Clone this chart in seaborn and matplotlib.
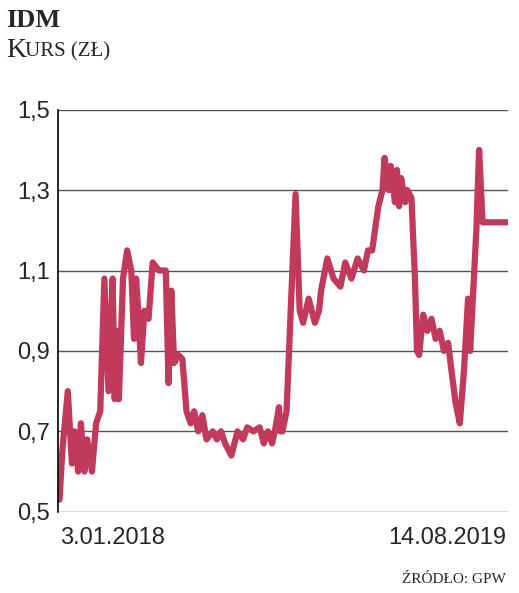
import matplotlib
matplotlib.use("Agg")
import matplotlib.pyplot as plt
import seaborn as sns
import pandas as pd

# price of IDM (day offset from 3.01.2018, price in zł)
days = [0, 4, 12, 18, 22, 27, 31, 36, 40, 47, 53, 59, 65, 71, 77, 80, 83, 86, 92, 98,
        104, 108, 111, 114, 118, 123, 129, 135, 144, 150, 154, 158, 162, 166, 172, 178, 184, 190, 195, 201,
        207, 213, 222, 228, 234, 240, 249, 258, 266, 272, 281, 290, 296, 302, 308, 312, 318, 320, 323, 329,
        335, 342, 348, 353, 361, 370, 376, 379, 388, 397, 407, 414, 423, 432, 441, 447, 453, 462, 468, 471,
        477, 480, 486, 489, 492, 495, 501, 504, 510, 515, 518, 521, 527, 533, 539, 545, 551, 557, 563, 568,
        574, 580, 586, 592, 595, 598, 604, 608, 613, 621, 667]
price = [0.53, 0.65, 0.80, 0.62, 0.70, 0.60, 0.72, 0.60, 0.68, 0.60, 0.72, 0.75, 1.08, 0.80, 1.08, 0.78, 0.95, 0.78, 1.08, 1.15,
         1.10, 0.93, 1.08, 1.00, 0.87, 1.00, 0.98, 1.12, 1.10, 1.10, 1.10, 0.82, 1.05, 0.87, 0.89, 0.88, 0.75, 0.72, 0.75, 0.70,
         0.74, 0.68, 0.70, 0.68, 0.70, 0.67, 0.64, 0.70, 0.68, 0.71, 0.70, 0.71, 0.67, 0.70, 0.67, 0.70, 0.76, 0.70, 0.70, 0.75,
         1.00, 1.29, 1.00, 0.97, 1.03, 0.97, 1.00, 1.05, 1.13, 1.08, 1.06, 1.12, 1.08, 1.13, 1.10, 1.15, 1.15, 1.26, 1.30, 1.38,
         1.30, 1.36, 1.27, 1.35, 1.26, 1.33, 1.27, 1.30, 1.28, 1.08, 0.90, 0.89, 0.99, 0.95, 0.98, 0.93, 0.95, 0.90, 0.92, 0.85,
         0.77, 0.72, 0.85, 1.03, 0.90, 1.00, 1.20, 1.40, 1.22, 1.22, 1.22]
yticks = [0.5, 0.7, 0.9, 1.1, 1.3, 1.5]

df = pd.DataFrame({"day": days, "price": price})

sns.set_theme(style="white")
plt.rcParams["font.family"] = ["Liberation Sans", "DejaVu Sans"]
serif = ["Liberation Serif", "DejaVu Serif"]

fig = plt.figure(figsize=(5.19, 5.93), dpi=100)
ax = fig.add_axes([0.112, 0.137, 0.867, 0.678])

for v in yticks:
    ax.axhline(v, color="#555555", lw=1, zorder=0)

sns.lineplot(data=df, x="day", y="price", ax=ax, color="#c13a5c", lw=4.5)

ax.set_ylim(0.5, 1.5)
ax.set_xlim(-2, 650)
ax.set_yticks(yticks)
ax.set_yticklabels([f"{v:.1f}".replace(".", ",") for v in yticks], fontsize=17)
ax.tick_params(axis="y", length=0, pad=6)
ax.set_xticks([])
ax.set_xlabel("")
ax.set_ylabel("")
for s in ["top", "right", "bottom"]:
    ax.spines[s].set_visible(False)
ax.spines["left"].set_color("black")
ax.spines["left"].set_linewidth(1.2)

fig.text(0.115, 0.075, "3.01.2018", fontsize=17, ha="left", va="bottom")
fig.text(0.975, 0.075, "14.08.2019", fontsize=17, ha="right", va="bottom")

fig.text(0.012, 0.965, "IDM", fontsize=19, fontweight="bold", family=serif, va="center")
# small caps imitation: capital K then smaller capitals
fig.text(0.012, 0.915, "K", fontsize=20, family=serif, va="center")
fig.text(0.048, 0.912, "URS (ZŁ)", fontsize=15, family=serif, va="center")
fig.text(0.975, 0.022, "Ź", fontsize=12, family=serif, va="center", ha="right",
         alpha=0)
fig.text(0.975, 0.022, "ŹRÓDŁO: GPW", fontsize=11, ha="right", family=serif, va="center")

fig.savefig("out.png", dpi=100, facecolor="white")
